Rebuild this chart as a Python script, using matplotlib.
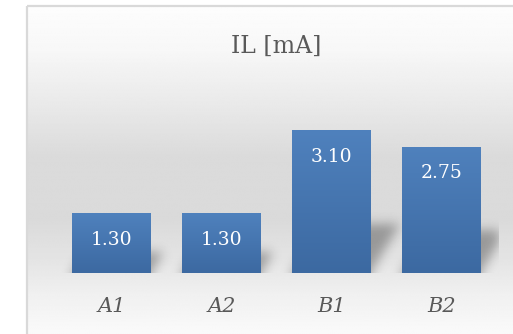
import numpy as np
import matplotlib
matplotlib.use("Agg")
import matplotlib.pyplot as plt

# Data
categories = ["A1", "A2", "B1", "B2"]
values = [1.30, 1.30, 3.10, 2.75]
title_text = "IL [mA]"

W, H, DPI = 513, 334, 100
fig = plt.figure(figsize=(W / DPI, H / DPI), dpi=DPI)
fig.patch.set_facecolor("white")

def px_rect(left, top, right, bottom):
    """Figure-fraction rectangle from pixel edges (origin at top-left)."""
    return [left / W, 1 - bottom / H, (right - left) / W, (bottom - top) / H]

# Chart area background: vertical grey gradient
bg = fig.add_axes(px_rect(27.5, 6.5, W, H), zorder=0)
bg.set_axis_off()
stops_y = np.array([0, 45, 100, 150, 215, 255, 290, 330])
stops_v = np.array([253, 247, 233, 219, 218, 228, 240, 250]) / 255
yy = np.linspace(0, 330, 400)
grad = np.interp(yy, stops_y, stops_v)
bg.imshow(np.repeat(grad[:, None], 2, axis=1), cmap="gray", vmin=0, vmax=1,
          aspect="auto", extent=[0, 1, 0, 1], interpolation="bilinear")
bg.set_xlim(0, 1); bg.set_ylim(0, 1)

# Chart area frame (left and top edges visible)
fig.add_artist(plt.Line2D([26.5 / W, 26.5 / W], [0, 1 - 5.5 / H], transform=fig.transFigure,
                          color="#d9d9d9", lw=1.6, solid_capstyle="butt"))
fig.add_artist(plt.Line2D([26.5 / W, 1], [1 - 5.5 / H, 1 - 5.5 / H], transform=fig.transFigure,
                          color="#d9d9d9", lw=1.6, solid_capstyle="butt"))

# Plot area
slot = 110.0
first_center = 111.5
ax_left, ax_right = 29.0, 499.0
ax_top, ax_bottom = 89.0, 273.0
ymax = 4.0
xlo = -(first_center - ax_left) / slot
xhi = (len(categories) - 1) + (ax_right - (first_center + slot * (len(categories) - 1))) / slot

ax = fig.add_axes(px_rect(ax_left, ax_top, ax_right, ax_bottom), zorder=1)
ax.patch.set_alpha(0)
ax.set_xlim(xlo, xhi)
ax.set_ylim(0, ymax)
for s in ax.spines.values():
    s.set_visible(False)
ax.set_yticks([])

x = np.arange(len(categories))
bar_w = 0.718

# Soft perspective shadows behind the bars
nx = int(ax_right - ax_left)
ny = int(ax_bottom - ax_top)
xs = np.linspace(xlo, xhi, nx)
ys = np.linspace(0, ymax, ny)
XX, YY = np.meshgrid(xs, ys)
px_per_x = slot
px_per_y = ny / ymax
mask = np.zeros_like(XX)
skew = 0.6  # horizontal px per vertical px
for xi, v in zip(x, values):
    sh_h = 0.34 * v
    off = skew * (YY * px_per_y) / px_per_x
    inside = (YY <= sh_h) & (XX >= xi - bar_w / 2 + off) & (XX <= xi + bar_w / 2 + off)
    mask = np.maximum(mask, inside.astype(float))
sig = 5.5
k = np.arange(-18, 19)
kern = np.exp(-0.5 * (k / sig) ** 2)
kern /= kern.sum()
pad = 20
padded = np.pad(mask, pad, mode="constant")
padded[:pad, :] = padded[pad:pad + 1, :]  # keep base dense at y=0
blur = np.apply_along_axis(lambda r: np.convolve(r, kern, mode="same"), 1, padded)
blur = np.apply_along_axis(lambda c: np.convolve(c, kern, mode="same"), 0, blur)
blur = blur[pad:-pad, pad:-pad]
rgba = np.zeros((ny, nx, 4))
rgba[..., 3] = 0.32 * blur
ax.imshow(rgba, extent=[xlo, xhi, 0, ymax], origin="lower", aspect="auto",
          interpolation="bilinear", zorder=1)

# Bars with a top-to-bottom blue gradient
bars = ax.bar(x, values, width=bar_w, color="#4a7ab5", zorder=2)
top_c = np.array([79, 129, 189]) / 255
bot_c = np.array([60, 105, 161]) / 255
t = np.linspace(0, 1, 200)[:, None]
col = (1 - t) * bot_c + t * top_c
grad_img = np.repeat(col[:, None, :], 2, axis=1)
for b in bars:
    x0, w, h = b.get_x(), b.get_width(), b.get_height()
    im = ax.imshow(grad_img, extent=[x0, x0 + w, 0, h], origin="lower", aspect="auto",
                   interpolation="bilinear", zorder=3)
    im.set_clip_path(b)
ax.set_xlim(xlo, xhi)
ax.set_ylim(0, ymax)

# Value labels inside bars
for xi, v in zip(x, values):
    ax.annotate(f"{v:.2f}", xy=(xi, v), xytext=(0, -27 * 72 / DPI), textcoords="offset points",
                ha="center", va="center", color="white", fontsize=13.5,
                family="DejaVu Serif", zorder=4)

# Category labels
ax.set_xticks(x)
ax.set_xticklabels(categories, fontsize=15, style="italic", family="DejaVu Serif", color="#595959")
ax.tick_params(axis="x", length=0, pad=17)

# Title
fig.text(276 / W, 1 - 52.5 / H, title_text, ha="center", va="baseline",
         fontsize=17, family="DejaVu Serif", color="#595959")

fig.savefig("out.png", dpi=DPI)
